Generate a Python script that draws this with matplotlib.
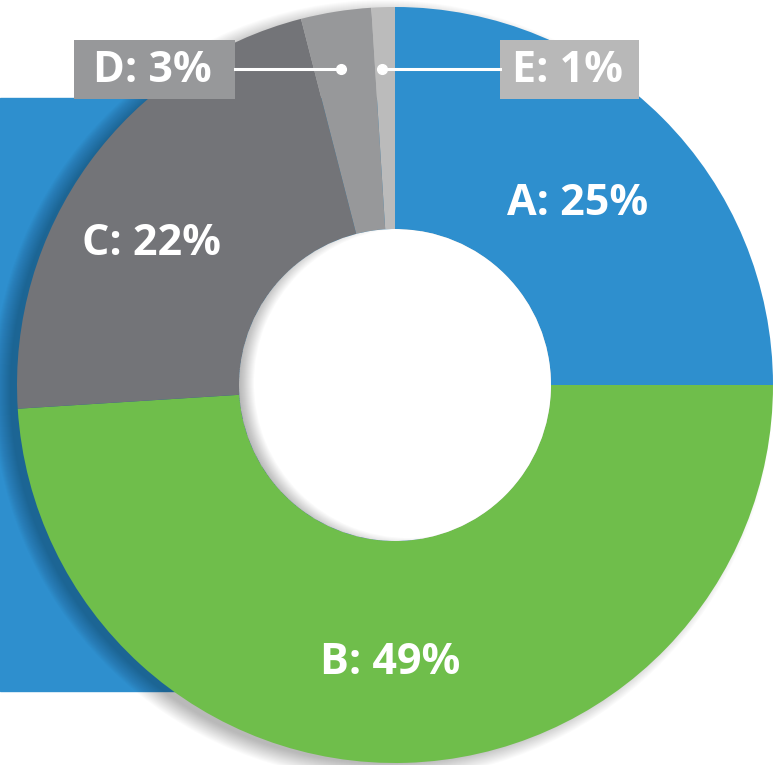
import matplotlib
matplotlib.use("Agg")
import matplotlib.pyplot as plt
from matplotlib.patches import Rectangle, Circle, Wedge

labels = ["A", "B", "C", "D", "E"]
shares = [25, 49, 22, 3, 1]
colors = ["#2E8FCE", "#6FBE4B", "#737478", "#97989A", "#BBBBBB"]

W, H = 784, 765
plt.rcParams['font.family'] = ['Open Sans', 'DejaVu Sans']

fig = plt.figure(figsize=(W / 100, H / 100), dpi=100)
ax = fig.add_axes([0, 0, 1, 1])

cx, cy = 395, H - 385
r_out, r_in = 378, 156

# blue block behind the donut
ax.add_patch(Rectangle((0, H - 691), 420, 593, color="#2E8FCE", zorder=0))

# soft drop shadow, mostly on the left/bottom
for i in range(18):
    ax.add_patch(Circle((cx - 12, cy - 5), r_out + 12 - i, color="black",
                        alpha=0.014, lw=0, zorder=1))

wedges, _ = ax.pie(shares, colors=colors, startangle=90, counterclock=False,
                   center=(cx, cy), radius=r_out,
                   wedgeprops=dict(width=r_out - r_in, linewidth=0))
for w in wedges:
    w.set_zorder(2)

# white hole with an inner shadow on its left side
ax.add_patch(Circle((cx, cy), r_in, color="white", lw=0, zorder=2.5))
hole = Circle((cx, cy), r_in, transform=ax.transData)
for i in range(16):
    ri = r_in + 14 - i
    sh = Wedge((cx + 14, cy + 2), r_in + 60, 0, 360, width=r_in + 60 - ri,
               color="black", alpha=0.018, lw=0, zorder=3)
    ax.add_patch(sh)
    sh.set_clip_path(hole)

txt = dict(color="white", fontsize=31, fontweight="bold", ha="center",
           va="center", zorder=6)
ax.text(578, H - 203, "%s: %d%%" % (labels[0], shares[0]), **txt)
ax.text(390, H - 662, "%s: %d%%" % (labels[1], shares[1]), **txt)
ax.text(152, H - 243, "%s: %d%%" % (labels[2], shares[2]), **txt)

# boxed labels for the thin slices
ax.add_patch(Rectangle((74, H - 99), 161, 59, color="#97989A", lw=0, zorder=5))
ax.add_patch(Rectangle((500, H - 99), 139, 59, color="#B8B8B8", lw=0, zorder=5))
ax.text(152, H - 70, "%s: %d%%" % (labels[3], shares[3]), **txt)
ax.text(568, H - 70, "%s: %d%%" % (labels[4], shares[4]), **txt)

ax.plot([235, 341], [H - 69, H - 69], color="white", lw=2.2, zorder=5)
ax.plot([382, 500], [H - 69, H - 69], color="white", lw=2.2, zorder=5)
ax.plot([341, 382], [H - 69, H - 69], "o", color="white", ms=7, zorder=6)

ax.set_xlim(0, W)
ax.set_ylim(0, H)
ax.set_aspect("auto")
ax.axis("off")

fig.savefig("out.png", dpi=100)
